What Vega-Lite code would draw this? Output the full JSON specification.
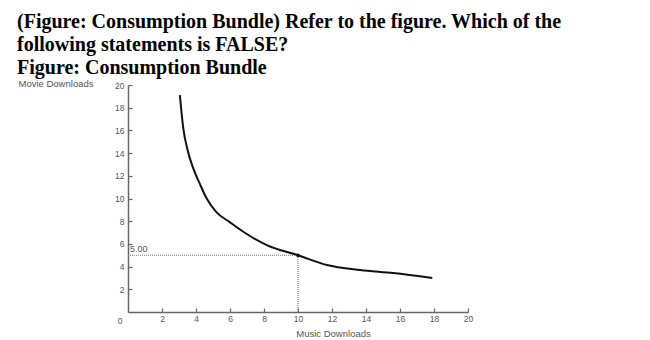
{
  "$schema": "https://vega.github.io/schema/vega-lite/v6.json",
  "autosize": "none",
  "width": 340,
  "height": 227,
  "padding": {"left": 128, "top": 85, "right": 182, "bottom": 28},
  "background": "white",
  "title": {
    "text": ["(Figure: Consumption Bundle) Refer to the figure. Which of the", "following statements is FALSE?", "Figure: Consumption Bundle"],
    "anchor": "start",
    "frame": "group",
    "font": "Liberation Serif",
    "fontSize": 20,
    "fontWeight": "bold",
    "color": "black",
    "lineHeight": 23,
    "dx": -111,
    "offset": 0
  },
  "config": {
    "view": {"stroke": null},
    "axis": {
      "grid": false,
      "domainColor": "#666",
      "domainWidth": 1.5,
      "tickColor": "#666",
      "tickWidth": 1.2,
      "tickSize": -4,
      "labelFont": "Liberation Sans",
      "labelFontSize": 8.5,
      "labelColor": "#555",
      "titleFont": "Liberation Sans",
      "titleFontSize": 9.5,
      "titleFontWeight": "normal",
      "titleColor": "#555"
    }
  },
  "layer": [
    {
      "data": {"values": [
        {"x": 3.05, "y": 19.1},
        {"x": 3.25, "y": 16.2},
        {"x": 3.5, "y": 14.3},
        {"x": 3.84, "y": 12.65},
        {"x": 4.25, "y": 11.2},
        {"x": 4.63, "y": 10.0},
        {"x": 5.2, "y": 8.8},
        {"x": 6.0, "y": 7.9},
        {"x": 6.78, "y": 7.07},
        {"x": 8.16, "y": 5.9},
        {"x": 10.0, "y": 5.0},
        {"x": 11.7, "y": 4.14},
        {"x": 13.65, "y": 3.7},
        {"x": 15.6, "y": 3.43},
        {"x": 17.9, "y": 3.0}
      ]},
      "mark": {"type": "line", "color": "#111", "strokeWidth": 2, "interpolate": "monotone"},
      "encoding": {
        "x": {
          "field": "x", "type": "quantitative",
          "scale": {"domain": [0, 20], "nice": false},
          "axis": {
            "values": [2, 4, 6, 8, 10, 12, 14, 16, 18, 20],
            "tickCount": 20,
            "labelOverlap": false,
            "labelFlush": false,
            "labelBound": false,
            "title": "Music Downloads",
            "titleX": 205,
            "titleY": 21,
            "titleAlign": "center",
            "titleBaseline": "middle",
            "labelPadding": 6
          }
        },
        "y": {
          "field": "y", "type": "quantitative",
          "scale": {"domain": [0, 20], "nice": false},
          "axis": {
            "values": [2, 4, 6, 8, 10, 12, 14, 16, 18, 20],
            "tickCount": 20,
            "labelOverlap": false,
            "labelFlush": false,
            "labelBound": false,
            "title": "Movie Downloads",
            "titleAngle": 0,
            "titleX": -110,
            "titleY": -2,
            "titleAlign": "left",
            "titleBaseline": "middle",
            "labelPadding": 8
          }
        }
      }
    },
    {
      "data": {"values": [
        {"x": 0, "y": 5, "x2": 10, "y2": 5},
        {"x": 10, "y": 0, "x2": 10, "y2": 5}
      ]},
      "mark": {"type": "rule", "color": "#777", "strokeWidth": 1.2, "strokeDash": [1, 1]},
      "encoding": {
        "x": {"field": "x", "type": "quantitative"},
        "y": {"field": "y", "type": "quantitative"},
        "x2": {"field": "x2"},
        "y2": {"field": "y2"}
      }
    },
    {
      "data": {"values": [{"x": 10, "y": 5}]},
      "mark": {"type": "point", "filled": true, "color": "#111", "size": 14, "opacity": 1},
      "encoding": {
        "x": {"field": "x", "type": "quantitative"},
        "y": {"field": "y", "type": "quantitative"}
      }
    },
    {
      "data": {"values": [{"x": 0, "y": 5, "label": "5.00"}]},
      "mark": {"type": "text", "align": "left", "baseline": "bottom", "dx": 2, "dy": -1, "font": "Liberation Sans", "fontSize": 9, "color": "#555"},
      "encoding": {
        "x": {"field": "x", "type": "quantitative"},
        "y": {"field": "y", "type": "quantitative"},
        "text": {"field": "label"}
      }
    },
    {
      "data": {"values": [{"x": 0, "y": 0, "label": "0"}]},
      "mark": {"type": "text", "align": "center", "baseline": "middle", "dx": -8, "dy": 9, "font": "Liberation Sans", "fontSize": 8.5, "color": "#555"},
      "encoding": {
        "x": {"field": "x", "type": "quantitative"},
        "y": {"field": "y", "type": "quantitative"},
        "text": {"field": "label"}
      }
    }
  ]
}
